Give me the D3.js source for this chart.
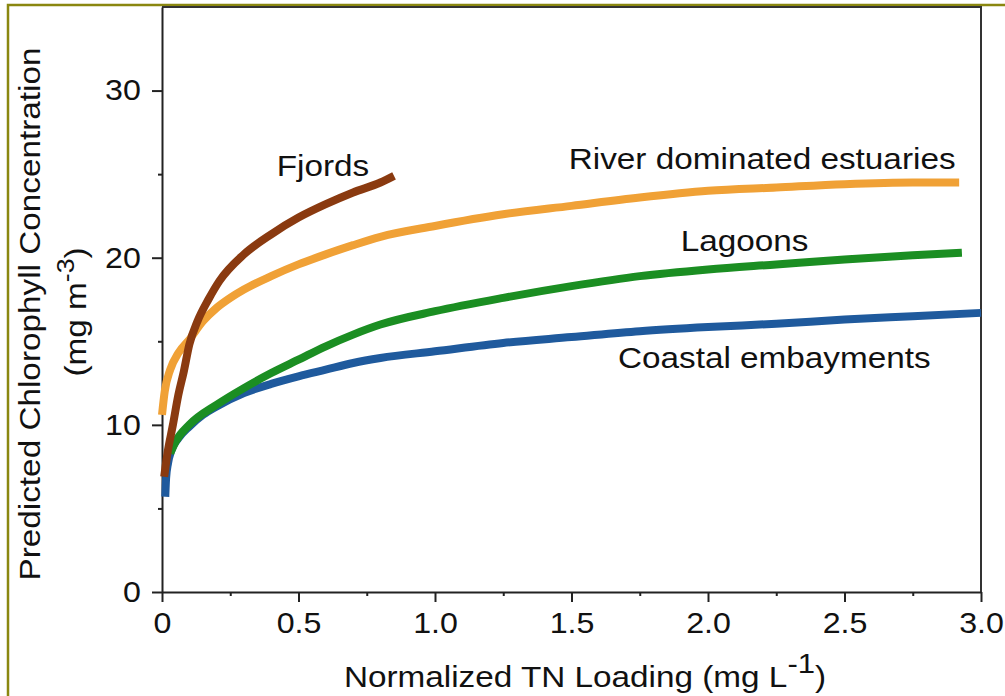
<!DOCTYPE html>
<html>
<head>
<meta charset="utf-8">
<script src="https://cdn.jsdelivr.net/npm/d3@7"></script>
<style>
  body { margin: 0; background: #fff; }
  svg { display: block; font-family: "Liberation Sans", Arial, Helvetica, sans-serif; }
  text { fill: #111; }
</style>
</head>
<body>
<div id="chart"></div>
<script>
// values: [TN loading, chlorophyll]
var coastal = [[0.012,5.7],[0.015,6.8],[0.022,7.7],[0.035,8.5],[0.06,9.2],[0.1,9.9],[0.15,10.6],[0.2,11.1],[0.3,11.9],[0.4,12.45],[0.5,12.9],[0.6,13.3],[0.7,13.7],[0.8,14.0],[1.0,14.4],[1.25,14.9],[1.5,15.25],[1.75,15.6],[2.0,15.85],[2.25,16.05],[2.5,16.3],[2.75,16.5],[3.0,16.7]];
var lagoons = [[0.03,8.3],[0.05,9.0],[0.1,10.0],[0.2,11.2],[0.3,12.2],[0.4,13.1],[0.5,13.9],[0.6,14.7],[0.7,15.4],[0.8,16.0],[1.0,16.8],[1.25,17.6],[1.5,18.3],[1.75,18.9],[2.0,19.3],[2.25,19.6],[2.5,19.9],[2.75,20.15],[2.93,20.3]];
var rivers = [[0.0,10.6],[0.01,12.0],[0.03,13.3],[0.06,14.3],[0.1,15.1],[0.15,16.2],[0.2,17.0],[0.25,17.6],[0.3,18.1],[0.4,18.9],[0.5,19.6],[0.6,20.2],[0.7,20.75],[0.8,21.25],[1.0,21.9],[1.25,22.6],[1.5,23.1],[1.75,23.6],[2.0,24.0],[2.25,24.2],[2.5,24.4],[2.75,24.5],[2.92,24.5]];
var fjords = [[0.008,6.9],[0.02,8.3],[0.04,10.0],[0.06,11.8],[0.08,13.2],[0.1,14.8],[0.13,16.2],[0.17,17.5],[0.21,18.6],[0.3,20.2],[0.4,21.4],[0.5,22.4],[0.6,23.2],[0.7,23.9],[0.8,24.5],[0.85,24.9]];

var xTicks = [0, 0.5, 1.0, 1.5, 2.0, 2.5, 3.0];
var xTickLabels = ["0", "0.5", "1.0", "1.5", "2.0", "2.5", "3.0"];
var xMinor = [0.25, 0.75, 1.25, 1.75, 2.25, 2.75];
var yTicks = [0, 10, 20, 30];
var yMinor = [5, 15, 25];

var series = [
  { name: "Coastal embayments", data: coastal, color: "#1f5a9d", lx: 1.67, ly: 13.4 },
  { name: "Lagoons", data: lagoons, color: "#1b8e22", lx: 1.90, ly: 20.4 },
  { name: "River dominated estuaries", data: rivers, color: "#f0a136", lx: 1.49, ly: 25.3 },
  { name: "Fjords", data: fjords, color: "#8a3a10", lx: 0.42, ly: 24.9 }
];

var width = 1005, height = 696;
var stretch = 1.11; // the original lettering is a bit wider than Arial

var svg = d3.select("#chart").append("svg")
  .attr("width", width)
  .attr("height", height);

// olive frame around the figure
svg.append("rect")
  .attr("x", 8).attr("y", 5)
  .attr("width", 1100).attr("height", 800)
  .attr("fill", "none")
  .attr("stroke", "#8a8710")
  .attr("stroke-width", 2.5);

var x = d3.scaleLinear().domain([0, 3]).range([162, 981]);
var y = d3.scaleLinear().domain([0, 35]).range([592, 7]);

// box top and right
svg.append("path")
  .attr("d", "M" + x(0) + "," + y(35) + "H" + x(3) + "V" + y(0))
  .attr("fill", "none")
  .attr("stroke", "#333")
  .attr("stroke-width", 2);

var xAxis = svg.append("g")
  .attr("transform", "translate(0," + y(0) + ")")
  .call(d3.axisBottom(x).tickValues(xTicks).tickSize(10).tickPadding(10).tickSizeOuter(0)
    .tickFormat(function(d, i) { return xTickLabels[i]; }));
var xAxisMinor = svg.append("g")
  .attr("transform", "translate(0," + y(0) + ")")
  .call(d3.axisBottom(x).tickValues(xMinor).tickSize(4).tickFormat(""));
xAxisMinor.select(".domain").remove();

var yAxis = svg.append("g")
  .attr("transform", "translate(" + x(0) + ",0)")
  .call(d3.axisLeft(y).tickValues(yTicks).tickSize(10).tickPadding(9).tickSizeOuter(0));
var yAxisMinor = svg.append("g")
  .attr("transform", "translate(" + x(0) + ",0)")
  .call(d3.axisLeft(y).tickValues(yMinor).tickSize(4).tickFormat(""));
yAxisMinor.select(".domain").remove();

svg.selectAll(".domain, .tick line")
  .attr("stroke", "#222")
  .attr("stroke-width", 2);

svg.selectAll(".tick text")
  .attr("font-size", 29)
  .attr("font-family", "Liberation Sans, Arial, sans-serif")
  .attr("fill", "#111")
  .attr("transform", "scale(" + stretch + ",1)");

// curves
var line = d3.line()
  .x(function(d) { return x(d[0]); })
  .y(function(d) { return y(d[1]); })
  .curve(d3.curveMonotoneX);

svg.selectAll(".curve")
  .data(series)
  .enter()
  .append("path")
  .attr("class", "curve")
  .attr("d", function(d) { return line(d.data); })
  .attr("fill", "none")
  .attr("stroke", function(d) { return d.color; })
  .attr("stroke-width", 8)
  .attr("stroke-linecap", "butt")
  .attr("stroke-linejoin", "round");

// curve names
svg.selectAll(".curve-label")
  .data(series)
  .enter()
  .append("g")
  .attr("class", "curve-label")
  .attr("transform", function(d) { return "translate(" + x(d.lx) + "," + y(d.ly) + ")"; })
  .append("text")
  .attr("font-size", 30)
  .attr("transform", "scale(" + stretch + ",1)")
  .text(function(d) { return d.name; });

// x axis title
var xTitle = svg.append("g")
  .attr("transform", "translate(585,687)")
  .append("text")
  .attr("text-anchor", "middle")
  .attr("font-size", 30)
  .attr("transform", "scale(" + stretch + ",1)");
xTitle.append("tspan").text("Normalized TN Loading (mg L");
xTitle.append("tspan").attr("font-size", 28).attr("dy", -14).text("-1");
xTitle.append("tspan").attr("dy", 14).text(")");

// y axis title, two lines
svg.append("g")
  .attr("transform", "translate(40,314) rotate(-90)")
  .append("text")
  .attr("text-anchor", "middle")
  .attr("font-size", 30)
  .attr("transform", "scale(" + stretch + ",1)")
  .text("Predicted Chlorophyll Concentration");

var yTitle2 = svg.append("g")
  .attr("transform", "translate(86,312) rotate(-90)")
  .append("text")
  .attr("text-anchor", "middle")
  .attr("font-size", 30)
  .attr("transform", "scale(" + stretch + ",1)");
yTitle2.append("tspan").text("(mg m");
yTitle2.append("tspan").attr("font-size", 24).attr("dy", -12).text("-3");
yTitle2.append("tspan").attr("dy", 12).text(")");
</script>
</body>
</html>
